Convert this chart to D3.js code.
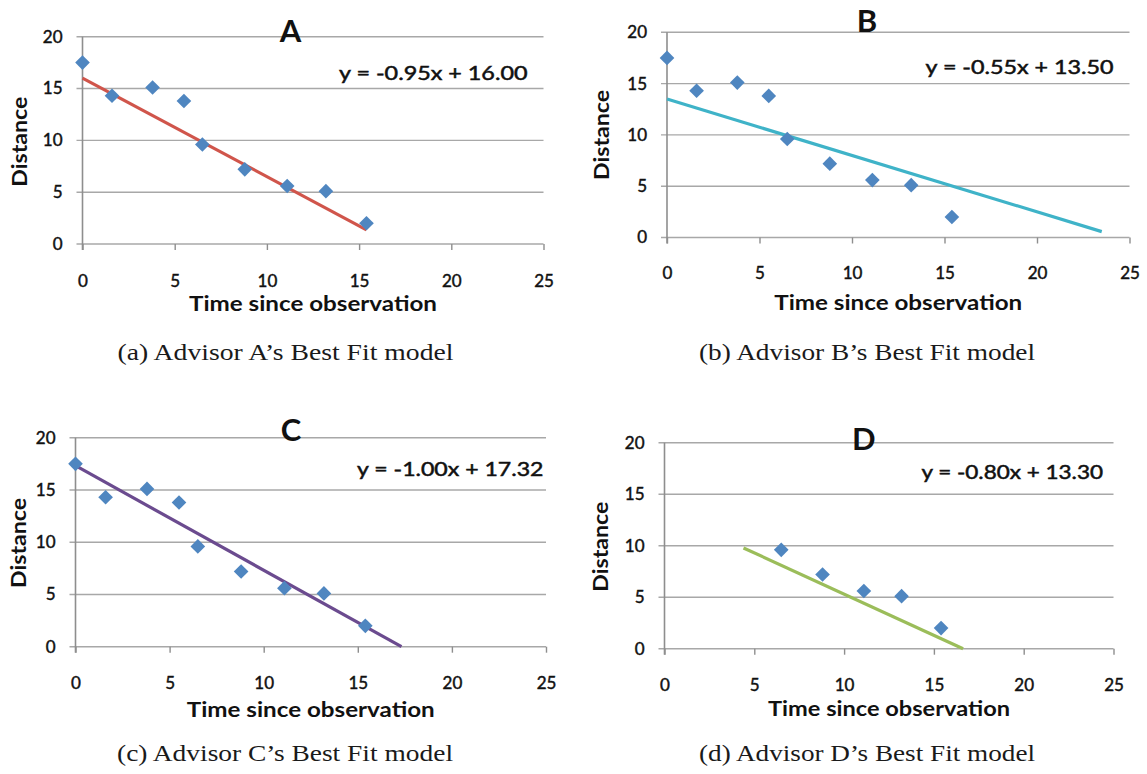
<!DOCTYPE html>
<html>
<head>
<meta charset="utf-8">
<script src="https://cdn.jsdelivr.net/npm/d3@7"></script>
<style>
  html, body { margin: 0; padding: 0; background: #ffffff; }
  svg { display: block; }
</style>
</head>
<body>
<svg id="chart" width="1147" height="774"></svg>
<script>
// Observations shared by every advisor's plot
const timeValues = [0, 1.6, 3.8, 5.5, 6.5, 8.8, 11.1, 13.2, 15.4];
const distanceValues = [17.5, 14.3, 15.1, 13.8, 9.6, 7.2, 5.6, 5.1, 2.0];

// Each advisor's fitted line and the x-range it is drawn over
const advisorNames = ["A", "B", "C", "D"];
const slopes = [-0.95, -0.55, -1.00, -0.80];
const intercepts = [16.00, 13.50, 17.32, 13.30];
const fitStart = [0, 0, 0, 4.4];
const fitEnd = [15.4, 23.5, 17.32, 16.625];
// Index of the first observation each advisor used
const firstPoint = [0, 0, 0, 4];

const captions = [
  "(a) Advisor A\u2019s Best Fit model",
  "(b) Advisor B\u2019s Best Fit model",
  "(c) Advisor C\u2019s Best Fit model",
  "(d) Advisor D\u2019s Best Fit model"
];

const xTickValues = [0, 5, 10, 15, 20, 25];
const yTickValues = [0, 5, 10, 15, 20];
const xTitle = "Time since observation";
const yTitle = "Distance";

// Panel geometry (pixels)
const layout = [
  { left: 82.5, right: 543.5, top: 36.7, bottom: 244, tickY: 280.7, xTitleY: 303, xTitleW: 248,
    titleX: 290.5, titleY: 30, eqL: 339, eqR: 527.5, eqY: 72, distX: 19, distY: 141.7,
    lineColor: "#d0554b", capX: 285.5, capY: 352 },
  { left: 667, right: 1129.5, top: 32.3, bottom: 237.5, tickY: 273.3, xTitleY: 301.7, xTitleW: 248,
    titleX: 867, titleY: 20, eqL: 925.5, eqR: 1113.5, eqY: 66.7, distX: 600.6, distY: 135,
    lineColor: "#3fb3c8", capX: 867, capY: 352 },
  { left: 75.5, right: 546, top: 437.7, bottom: 646.7, tickY: 683.3, xTitleY: 709.3, xTitleW: 248,
    titleX: 291, titleY: 429.3, eqL: 357, eqR: 543.5, eqY: 468.3, distX: 18.3, distY: 543,
    lineColor: "#6b4b8f", capX: 285, capY: 753 },
  { left: 664.5, right: 1113.5, top: 442.7, bottom: 648.7, tickY: 685, xTitleY: 708.3, xTitleW: 242,
    titleX: 863.7, titleY: 437.7, eqL: 921.4, eqR: 1103, eqY: 471.7, distX: 599.8, distY: 546.7,
    lineColor: "#9bbd5a", capX: 867, capY: 753 }
];

const svg = d3.select("#chart");
const gridColor = "#a8a8a8";
const axisColor = "#8e8e8e";
const markerColor = "#4f86c0";
const sansFont = "Lato, 'Open Sans', sans-serif";
const tickFontSize = 17;
const inkColor = "#111";

// Square rotated 45 degrees, like a spreadsheet's diamond marker
const diamond = {
  draw(context, size) {
    const r = Math.sqrt(size) / 2;
    context.moveTo(0, -r);
    context.lineTo(r, 0);
    context.lineTo(0, r);
    context.lineTo(-r, 0);
    context.closePath();
  }
};

function formatEquation(m, b) {
  const sign = m < 0 ? "-" : "";
  return "y = " + sign + Math.abs(m).toFixed(2) + "x + " + b.toFixed(2);
}

// slightly heavier strokes for the chart's regular-weight text
function inked(sel, w) {
  return sel.attr("fill", inkColor).attr("stroke", inkColor).attr("stroke-width", w);
}

advisorNames.forEach((name, i) => {
  const L = layout[i];
  const x = d3.scaleLinear().domain([0, 25]).range([L.left, L.right]);
  const y = d3.scaleLinear().domain([0, 20]).range([L.bottom, L.top]);
  const g = svg.append("g");

  // horizontal gridlines (reach a little past the value axis as ticks)
  g.append("g").selectAll("line").data(yTickValues).join("line")
    .attr("x1", L.left - 6).attr("x2", x(25))
    .attr("y1", d => y(d)).attr("y2", d => y(d))
    .attr("stroke", gridColor).attr("stroke-width", 1.4);

  // value axis labels
  const yAxis = d3.axisLeft(y).tickValues(yTickValues).tickSize(0).tickPadding(20);
  const yg = g.append("g").attr("transform", `translate(${L.left},0)`).call(yAxis);
  yg.select(".domain").remove();
  inked(yg.selectAll("text").attr("font-family", sansFont).attr("font-size", tickFontSize), 0.45);

  // time axis: tick marks and labels
  const tickSize = 6;
  const xAxis = d3.axisBottom(x).tickValues(xTickValues).tickSize(tickSize)
    .tickPadding(L.tickY - L.bottom - tickSize - 0.35 * tickFontSize);
  const xg = g.append("g").attr("transform", `translate(0,${L.bottom})`).call(xAxis);
  xg.select(".domain").remove();
  xg.selectAll("line").attr("stroke", axisColor).attr("stroke-width", 1.4);
  inked(xg.selectAll("text").attr("font-family", sansFont).attr("font-size", tickFontSize), 0.45);

  // vertical axis line
  g.append("line")
    .attr("x1", L.left).attr("x2", L.left)
    .attr("y1", y(20)).attr("y2", L.bottom + tickSize)
    .attr("stroke", axisColor).attr("stroke-width", 1.6);

  // fitted line
  const fit = d3.line().x(d => x(d)).y(d => y(slopes[i] * d + intercepts[i]));
  g.append("path")
    .datum([fitStart[i], fitEnd[i]])
    .attr("d", fit)
    .attr("fill", "none")
    .attr("stroke", L.lineColor)
    .attr("stroke-width", 3.2);

  // observations
  const pts = timeValues.map((t, k) => ({ t, d: distanceValues[k] })).slice(firstPoint[i]);
  g.append("g").selectAll("path").data(pts).join("path")
    .attr("transform", p => `translate(${x(p.t)},${y(p.d)})`)
    .attr("d", d3.symbol(diamond, 215))
    .attr("fill", markerColor);

  // panel letter
  g.append("text")
    .attr("x", L.titleX).attr("y", L.titleY)
    .attr("text-anchor", "middle").attr("dominant-baseline", "central")
    .attr("font-family", sansFont).attr("font-weight", 700).attr("font-size", 31)
    .attr("fill", inkColor)
    .text(name);

  // equation of the fit
  inked(g.append("text")
    .attr("x", L.eqL).attr("y", L.eqY)
    .attr("dominant-baseline", "central")
    .attr("font-family", sansFont).attr("font-size", 19)
    .attr("textLength", L.eqR - L.eqL).attr("lengthAdjust", "spacingAndGlyphs"), 0.5)
    .text(formatEquation(slopes[i], intercepts[i]));

  // axis titles
  g.append("text")
    .attr("x", (L.left + L.right) / 2).attr("y", L.xTitleY)
    .attr("text-anchor", "middle").attr("dominant-baseline", "central")
    .attr("font-family", sansFont).attr("font-weight", 700).attr("font-size", 20)
    .attr("textLength", L.xTitleW).attr("lengthAdjust", "spacingAndGlyphs")
    .attr("fill", inkColor)
    .text(xTitle);

  g.append("text")
    .attr("transform", `translate(${L.distX},${L.distY}) rotate(-90)`)
    .attr("text-anchor", "middle").attr("dominant-baseline", "central")
    .attr("font-family", sansFont).attr("font-weight", 700).attr("font-size", 20)
    .attr("textLength", 90).attr("lengthAdjust", "spacingAndGlyphs")
    .attr("fill", inkColor)
    .text(yTitle);

  // caption below the panel
  svg.append("text")
    .attr("x", L.capX).attr("y", L.capY)
    .attr("text-anchor", "middle").attr("dominant-baseline", "central")
    .attr("font-family", "'Liberation Serif', 'DejaVu Serif', serif").attr("font-size", 23)
    .attr("textLength", 336).attr("lengthAdjust", "spacingAndGlyphs")
    .attr("fill", "#1a1a1a")
    .text(captions[i]);
});
</script>
</body>
</html>
